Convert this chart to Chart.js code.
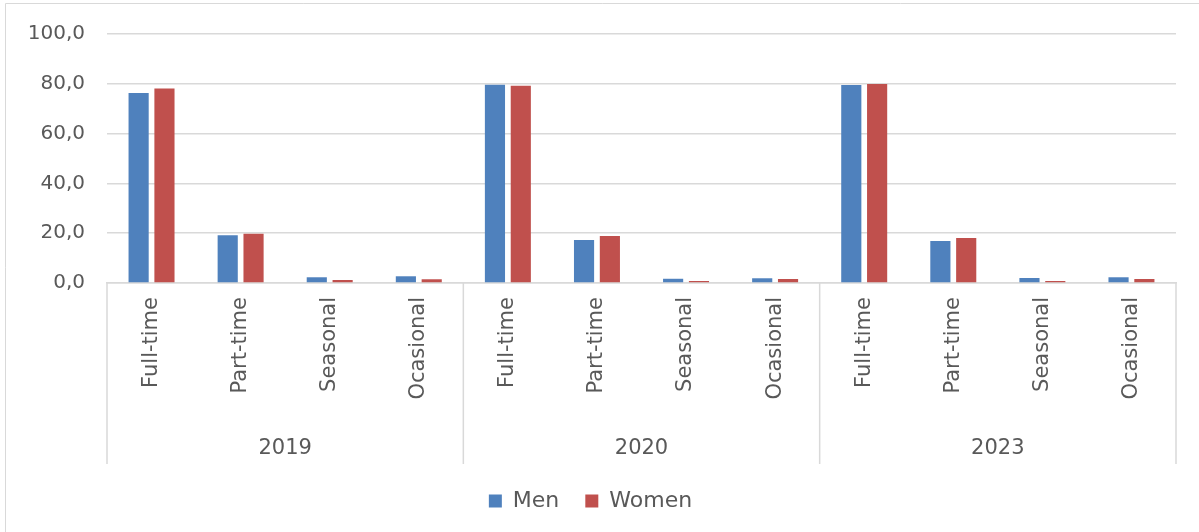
<!DOCTYPE html>
<html>
<head>
<meta charset="utf-8">
<script src="https://cdn.jsdelivr.net/npm/chart.js@4/dist/chart.umd.min.js"></script>
<style>
  html, body { margin: 0; padding: 0; background: #fff; }
  #wrap { width: 1199px; height: 532px; position: relative; }
</style>
</head>
<body>
<div id="wrap"><canvas id="chart" width="1199" height="532"></canvas></div>
<script>
// ====== data ======
const years = ["2019", "2020", "2023"];
const types = ["Full-time", "Part-time", "Seasonal", "Ocasional"];
const menValues = [76.3, 19.2, 2.3, 2.7, 79.6, 17.3, 1.7, 1.9, 79.5, 16.9, 2.0, 2.3];
const womenValues = [78.1, 19.8, 1.2, 1.5, 79.2, 18.9, 0.8, 1.6, 79.9, 18.1, 0.8, 1.6];
const yTicks = [0, 20, 40, 60, 80, 100];

const labels = [];
years.forEach(() => types.forEach((t) => labels.push(t)));

const FONT = "'DejaVu Sans', sans-serif";
const TEXT = "#595959";
const GRID = "#d9d9d9";

// group separators + year labels under the category ticks
const groupPlugin = {
  id: "groups",
  beforeDraw(chart) {
    const ctx = chart.ctx;
    ctx.save();
    ctx.strokeStyle = GRID;
    ctx.lineWidth = 1;
    ctx.beginPath();
    ctx.moveTo(5.5, chart.height);
    ctx.lineTo(5.5, 3.5);
    ctx.lineTo(chart.width, 3.5);
    ctx.stroke();
    ctx.restore();
  },
  afterDraw(chart) {
    const x = chart.scales.x;
    const ctx = chart.ctx;
    const half = (x.getPixelForValue(1) - x.getPixelForValue(0)) / 2;
    const top = x.top;
    const bottom = x.bottom;
    ctx.save();
    ctx.strokeStyle = GRID;
    ctx.lineWidth = 1.5;
    for (let g = 0; g <= years.length; g++) {
      const px = g < years.length
        ? x.getPixelForValue(g * types.length) - half
        : x.getPixelForValue(labels.length - 1) + half;
      ctx.beginPath();
      ctx.moveTo(px, top);
      ctx.lineTo(px, bottom);
      ctx.stroke();
    }
    ctx.fillStyle = TEXT;
    ctx.font = "21px " + FONT;
    ctx.textAlign = "center";
    ctx.textBaseline = "middle";
    years.forEach((yr, g) => {
      const a = x.getPixelForValue(g * types.length) - half;
      const b = x.getPixelForValue((g + 1) * types.length - 1) + half;
      ctx.fillText(yr, (a + b) / 2, bottom - 15);
    });
    ctx.restore();
  },
};

new Chart(document.getElementById("chart"), {
  type: "bar",
  data: {
    labels,
    datasets: [
      { label: "Men", data: menValues, backgroundColor: "#4f81bd" },
      { label: "Women", data: womenValues, backgroundColor: "#c0504d" },
    ],
  },
  options: {
    responsive: false,
    animation: false,
    categoryPercentage: 0.58,
    barPercentage: 0.78,
    layout: { padding: { left: 5, right: 23, top: 22, bottom: 10 } },
    plugins: {
      tooltip: { enabled: false },
      legend: {
        position: "bottom",
        labels: {
          font: { family: FONT, size: 22 },
          color: TEXT,
          boxWidth: 13,
          boxHeight: 13,
          padding: 26,
        },
      },
    },
    scales: {
      x: {
        offset: true,
        grid: { display: false, drawTicks: false },
        border: { color: GRID, width: 1.5 },
        ticks: {
          autoSkip: false,
          minRotation: 90,
          maxRotation: 90,
          padding: 14,
          color: TEXT,
          font: { family: FONT, size: 21 },
        },
        afterFit(scale) { scale.height = 181; },
      },
      y: {
        min: 0,
        max: 100,
        afterBuildTicks(scale) { scale.ticks = yTicks.map((v) => ({ value: v })); },
        grid: { color: GRID, lineWidth: 1.5, drawTicks: false },
        border: { display: false },
        ticks: {
          padding: 22,
          color: TEXT,
          font: { family: FONT, size: 20 },
          callback: (v) => v.toFixed(1).replace(".", ","),
        },
        afterFit(scale) { scale.width = 102; },
      },
    },
  },
  plugins: [groupPlugin],
});
</script>
</body>
</html>
